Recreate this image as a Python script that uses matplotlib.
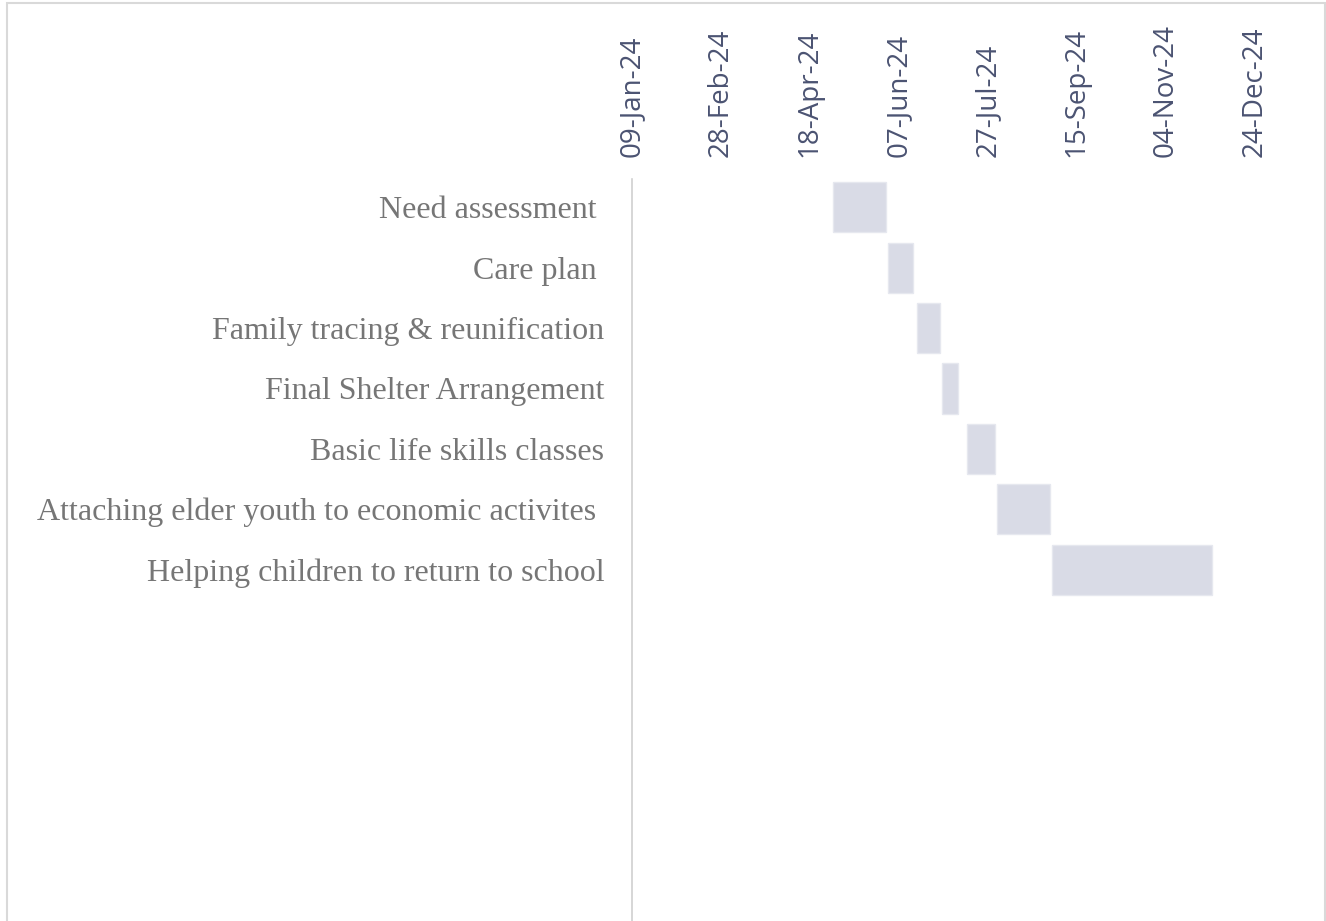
import matplotlib.pyplot as plt
import matplotlib.dates as mdates
import matplotlib.patches as patches
import pandas as pd
import numpy as np

tasks = ['Need assessment ', 'Care plan ', 'Family tracing & reunification',
         'Final Shelter Arrangement', 'Basic life skills classes',
         'Attaching elder youth to economic activites ',
         'Helping children to return to school']
start_dates = ['2024-05-01', '2024-06-01', '2024-06-17', '2024-07-01',
               '2024-07-15', '2024-08-01', '2024-09-01']
end_dates = ['2024-05-31', '2024-06-15', '2024-06-30', '2024-07-10',
             '2024-07-31', '2024-08-31', '2024-11-30']
tick_dates = pd.date_range('2024-01-09', periods=8, freq='50D')

starts = pd.to_datetime(start_dates)
ends = pd.to_datetime(end_dates)
left = mdates.date2num(starts)
width = (ends - starts).days

fig = plt.figure(figsize=(13.26, 9.21), dpi=100)
# light outer frame of the chart area
fig.patches.append(patches.Rectangle((7/1326, -0.1), (1325-7)/1326, 1.1 - 3/921,
                                     transform=fig.transFigure, fill=False,
                                     edgecolor='#d9d9d9', linewidth=1.5))

ax = fig.add_axes([632/1326, 0, (1301-632)/1326, (920-178)/921])
y = np.arange(len(tasks))
ax.barh(y, width, left=left, height=0.83, color='#d9dbe6',
        edgecolor='#e6e8ef', linewidth=1)

ax.set_xlim(mdates.date2num(pd.Timestamp('2024-01-09')),
            mdates.date2num(pd.Timestamp('2025-01-19')))
ax.set_ylim(11.82, -0.47)

ax.xaxis.tick_top()
ax.set_xticks(mdates.date2num(tick_dates))
ax.set_xticklabels([d.strftime('%d-%b-%y') for d in tick_dates], rotation=90,
                   fontfamily='Open Sans', fontsize=20, color='#4b5372')
ax.tick_params(axis='x', length=0, pad=16)

ax.set_yticks(y)
ax.set_yticklabels(tasks, fontfamily='Liberation Serif', fontsize=23, color='#767676')
ax.tick_params(axis='y', length=0, pad=20)

for s in ['top', 'right', 'bottom']:
    ax.spines[s].set_visible(False)
ax.spines['left'].set_color('#d0d0d0')
ax.spines['left'].set_linewidth(1.2)

fig.savefig('out.png', dpi=100)
